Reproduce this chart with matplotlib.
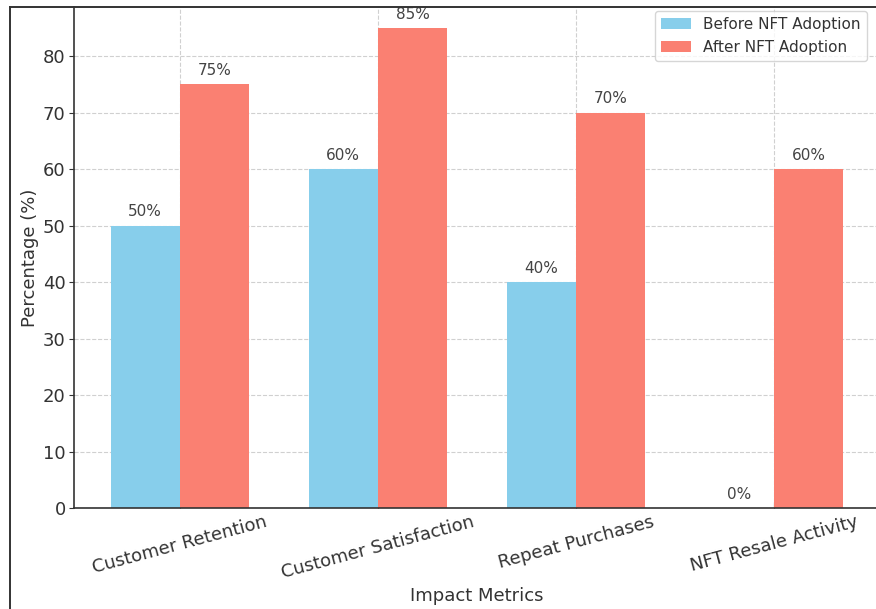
import numpy as np
import matplotlib
matplotlib.use("Agg")
import matplotlib.pyplot as plt
from matplotlib.lines import Line2D

# impact of NFT adoption on customer metrics (%)
metrics = ["Customer Retention", "Customer Satisfaction", "Repeat Purchases", "NFT Resale Activity"]
before_nft = [50, 60, 40, 0]
after_nft = [75, 85, 70, 60]

W, H = 876, 609
TEXT = "#333333"

fig = plt.figure(figsize=(W / 100, H / 100), dpi=100)
fig.patch.set_facecolor("white")

# axes run past the right edge; top is cut at the frame line
ax = fig.add_axes([74 / W, (H - 508) / H, (880 - 74) / W, (508 - 7) / H])

x = np.arange(len(metrics))
width = 0.35
bars_before = ax.bar(x - width / 2, before_nft, width, color="skyblue", label="Before NFT Adoption")
bars_after = ax.bar(x + width / 2, after_nft, width, color="salmon", label="After NFT Adoption")

for bars in (bars_before, bars_after):
    for b in bars:
        h = b.get_height()
        ann = ax.annotate(f"{h}%", xy=(b.get_x() + b.get_width() / 2, h),
                          xytext=(0, 4.5), textcoords="offset points",
                          ha="center", va="bottom", fontsize=11, color="#444444",
                          annotation_clip=False)
        ann.set_clip_on(True)
        ann.set_clip_box(ax.bbox)

ax.set_xlim(-0.535, 3.535)
ax.set_ylim(0, 88.7)
ax.set_xticks(x)
ax.set_xticklabels(metrics, rotation=15, fontsize=13, color=TEXT)
ax.set_yticks(np.arange(0, 90, 10))
ax.tick_params(axis="y", labelsize=13, labelcolor=TEXT, length=3.5, pad=2.5, color=TEXT)
ax.tick_params(axis="x", direction="in", length=4, color=TEXT)

ax.set_xlabel("Impact Metrics", fontsize=13, color=TEXT)
ax.set_ylabel("Percentage (%)", fontsize=13, color=TEXT, labelpad=3)

ax.set_axisbelow(True)
ax.grid(True, linestyle="--", color="#d0d0d0", linewidth=0.8)

for side in ("top", "right"):
    ax.spines[side].set_visible(False)
for side in ("left", "bottom"):
    ax.spines[side].set_color(TEXT)
    ax.spines[side].set_linewidth(1.2)

leg = ax.legend(loc="upper right", bbox_to_anchor=(867 / W, (H - 11) / H),
                bbox_transform=fig.transFigure, borderaxespad=0, fontsize=11,
                framealpha=0.8, edgecolor="#cccccc", fancybox=True)
for t in leg.get_texts():
    t.set_color(TEXT)

# outer frame lines
fig.add_artist(Line2D([10 / W, 1], [(H - 7) / H, (H - 7) / H], transform=fig.transFigure,
                      color="#333333", linewidth=1.4))
fig.add_artist(Line2D([10 / W, 10 / W], [0, (H - 7) / H], transform=fig.transFigure,
                      color="#333333", linewidth=1.4))

fig.savefig("out.png", dpi=100, facecolor=fig.get_facecolor())
